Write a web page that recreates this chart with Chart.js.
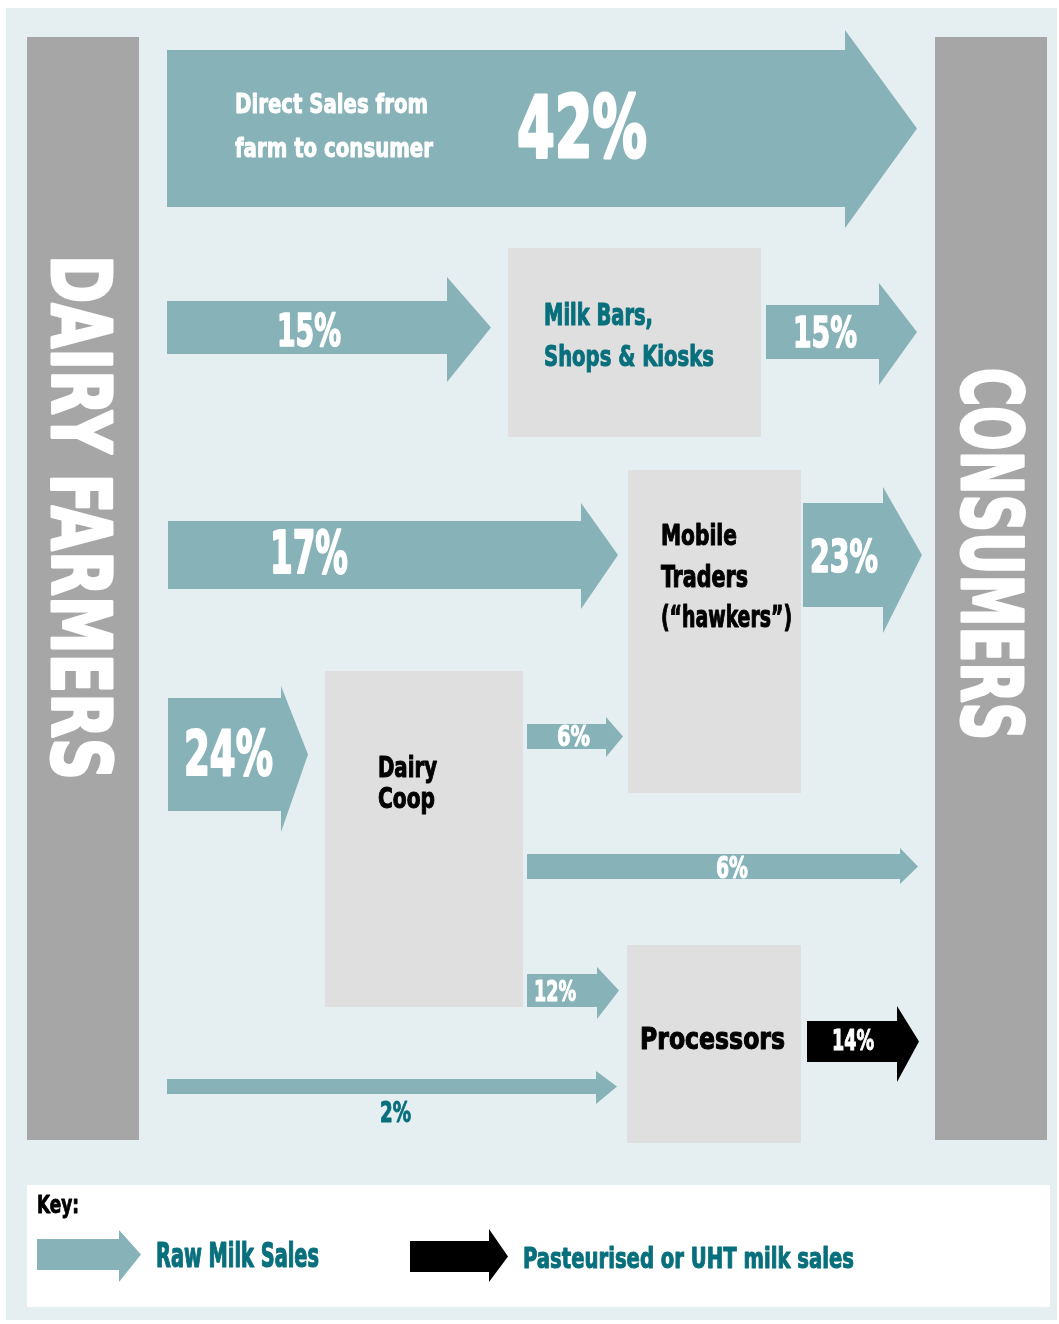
<!DOCTYPE html>
<html>
<head>
<meta charset="utf-8">
<script src="https://cdn.jsdelivr.net/npm/chart.js@4"></script>
<style>
  body { margin: 0; background: #ffffff; }
  canvas { display: block; }
</style>
</head>
<body>
<canvas id="myChart" width="1059" height="1324"></canvas>
<script>
// data
var flowNames = ['Direct sales farm to consumer', 'Farmers to milk bars', 'Milk bars to consumers',
    'Farmers to mobile traders', 'Mobile traders to consumers', 'Farmers to dairy coop',
    'Coop to mobile traders', 'Coop to consumers', 'Coop to processors',
    'Processors to consumers', 'Farmers to processors'];
var flowShares = [42, 15, 15, 17, 23, 24, 6, 6, 12, 14, 2];
var flowTypes = ['raw', 'raw', 'raw', 'raw', 'raw', 'raw', 'raw', 'raw', 'raw', 'pasteurised', 'raw'];
var directLabel = ['Direct Sales from', 'farm to consumer'];
var nodeNames = [['Milk Bars,', 'Shops & Kiosks'], ['Mobile', 'Traders', '(\u201chawkers\u201d)'], ['Dairy', 'Coop'], ['Processors']];
var endNames = ['DAIRY FARMERS', 'CONSUMERS'];
var keyTitle = 'Key:';
var keyLabels = ['Raw Milk Sales', 'Pasteurised or UHT milk sales'];

// layout, in diagram units (x 0..1059, y 0..1324)
// arrow: [xStart, xHeadBase, xTip, bodyTop, bodyBottom, headTop, headBottom]
var arrowShapes = [
    [167, 845, 917, 50, 207, 30, 228],
    [167, 447, 491, 301, 354, 277, 382],
    [766, 879, 917, 305, 359, 283, 385],
    [168, 581, 618, 521, 589, 503, 609],
    [803, 883, 922, 503, 607, 487, 633],
    [168, 281, 308, 698, 811, 686, 832],
    [527, 606, 623, 724, 749, 717, 757],
    [527, 900, 918, 854, 879, 848, 884],
    [527, 597, 619, 974, 1007, 967, 1019],
    [807, 897, 919, 1021, 1062, 1006, 1082],
    [167, 596, 617, 1079, 1094, 1071, 1104]
];
// text: [left, baseline, capHeight, width]
var shareText = [
    [517, 157, 62, 130], [277, 346, 33, 64], [793, 347, 31, 64], [270, 573, 43, 78],
    [810, 572, 32, 68], [184, 775, 45, 89], [557, 746, 21, 33], [716, 878, 22, 32],
    [534, 1001, 21, 42], [832, 1050, 21, 42], [380, 1122, 21, 31]
];
var directText = [[235, 113, 20, 193], [235, 157, 20, 198]];
var nodeBoxes = [[508, 248, 761, 437], [628, 470, 801, 793], [325, 671, 523, 1007], [627, 945, 801, 1143]];
var nodeText = [
    [[544, 325, 22, 109], [544, 366, 21, 170]],
    [[661, 545, 21, 76], [661, 587, 22, 87], [661, 627, 22, 131]],
    [[378, 777, 21, 59], [378, 808, 21, 57]],
    [[640, 1049, 22, 145]]
];
var endBars = [[27, 37, 139, 1140], [935, 37, 1047, 1140]];
var endText = [[52, 255, 60, 525], [962, 368, 61, 372]];
var keyBox = [27, 1185, 1050, 1307];
var keyTitleText = [37, 1213, 18, 42];
var keyArrows = [[37, 119, 141, 1239, 1270, 1230, 1282], [410, 489, 508, 1241, 1272, 1229, 1282]];
var keyText = [[156, 1267, 24, 163], [523, 1268, 21, 331]];

var colors = { raw: '#87b2b8', pasteurised: '#000000', bg: '#e5eef0', bar: '#a6a6a6',
    box: '#dfdfdf', teal: '#086f7c', white: '#ffffff', black: '#000000' };
var fontFamily = '"DejaVu Sans Condensed", "Liberation Sans Narrow", "DejaVu Sans", sans-serif';

var chart;

function px(chart, x) { return chart.scales.x.getPixelForValue(x); }
function py(chart, y) { return chart.scales.y.getPixelForValue(y); }

function fillBox(chart, ctx, b, color) {
    var x0 = px(chart, b[0]), y0 = py(chart, b[1]);
    ctx.fillStyle = color;
    ctx.fillRect(x0, y0, px(chart, b[2]) - x0, py(chart, b[3]) - y0);
}

function drawArrow(chart, ctx, a, color) {
    var mid = (a[3] + a[4]) / 2;
    ctx.beginPath();
    ctx.moveTo(px(chart, a[0]), py(chart, a[3]));
    ctx.lineTo(px(chart, a[1]), py(chart, a[3]));
    ctx.lineTo(px(chart, a[1]), py(chart, a[5]));
    ctx.lineTo(px(chart, a[2]), py(chart, mid));
    ctx.lineTo(px(chart, a[1]), py(chart, a[6]));
    ctx.lineTo(px(chart, a[1]), py(chart, a[4]));
    ctx.lineTo(px(chart, a[0]), py(chart, a[4]));
    ctx.closePath();
    ctx.fillStyle = color;
    ctx.fill();
}

// text squeezed to the width it takes in the picture, with a thin stroke to look heavier
function drawText(chart, ctx, str, t, color, rotate) {
    var capH = py(chart, t[2]) - py(chart, 0);
    var size = capH / 0.73;
    ctx.save();
    ctx.font = 'bold ' + size + 'px ' + fontFamily;
    ctx.textBaseline = 'alphabetic';
    ctx.textAlign = 'left';
    var natural = ctx.measureText(str).width;
    var target = rotate ? (py(chart, t[3]) - py(chart, 0)) : (px(chart, t[3]) - px(chart, 0));
    ctx.translate(px(chart, t[0]), py(chart, t[1]));
    if (rotate) ctx.rotate(Math.PI / 2);
    ctx.scale(target / natural, 1);
    ctx.fillStyle = color;
    ctx.strokeStyle = color;
    ctx.lineJoin = 'round';
    ctx.lineWidth = size * 0.035;
    ctx.fillText(str, 0, 0);
    ctx.strokeText(str, 0, 0);
    ctx.restore();
}

var diagramPlugin = {
    id: 'diagram',
    beforeDraw: function(chart) {
        var ctx = chart.ctx;
        fillBox(chart, ctx, [6, 8, 1057, 1320], colors.bg);
    },
    afterDatasetsDraw: function(chart) {
        var ctx = chart.ctx;
        var i, j;
        endBars.forEach(function(b, k) {
            fillBox(chart, ctx, b, colors.bar);
            drawText(chart, ctx, endNames[k], endText[k], colors.white, true);
        });
        nodeBoxes.forEach(function(b) { fillBox(chart, ctx, b, colors.box); });
        for (i = 0; i < flowShares.length; i++) {
            drawArrow(chart, ctx, arrowShapes[i], colors[flowTypes[i]]);
            var c = (i === flowShares.length - 1) ? colors.teal : colors.white;
            drawText(chart, ctx, flowShares[i] + '%', shareText[i], c, false);
        }
        directLabel.forEach(function(s, k) { drawText(chart, ctx, s, directText[k], colors.white, false); });
        for (i = 0; i < nodeNames.length; i++) {
            for (j = 0; j < nodeNames[i].length; j++) {
                var col = i === 0 ? colors.teal : colors.black;
                drawText(chart, ctx, nodeNames[i][j], nodeText[i][j], col, false);
            }
        }
        /* key */
        fillBox(chart, ctx, keyBox, colors.white);
        drawText(chart, ctx, keyTitle, keyTitleText, colors.black, false);
        drawArrow(chart, ctx, keyArrows[0], colors.raw);
        drawArrow(chart, ctx, keyArrows[1], colors.pasteurised);
        keyLabels.forEach(function(s, k) { drawText(chart, ctx, s, keyText[k], colors.teal, false); });
    }
};

function showChart() {
    var config = {
        type: 'scatter',
        data: {
            labels: flowNames,
            datasets: [{ label: 'flows', data: [], pointRadius: 0 }]
        },
        options: {
            responsive: false,
            animation: false,
            layout: { padding: 0 },
            plugins: { legend: { display: false }, tooltip: { enabled: false } },
            scales: {
                x: { type: 'linear', min: 0, max: 1059, display: false },
                y: { type: 'linear', min: 0, max: 1324, reverse: true, display: false }
            }
        },
        plugins: [diagramPlugin]
    };
    chart = new Chart(document.getElementById('myChart'), config);
}

window.onload = showChart;
</script>
</body>
</html>
